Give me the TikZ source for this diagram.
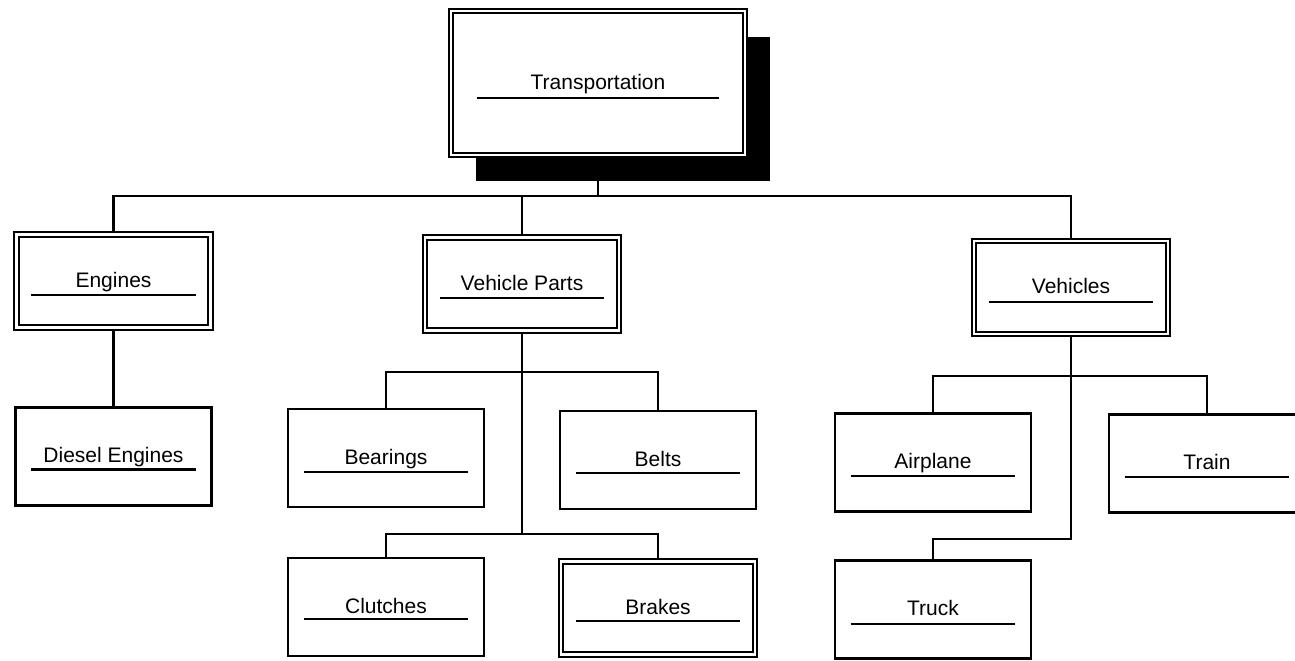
\documentclass[tikz,border=0pt]{standalone}
\usepackage{fontspec}
\setmainfont{Liberation Sans}
\usepackage{tikz}
\usetikzlibrary{shadows}

\begin{document}
\begin{tikzpicture}[x=0.5pt, y=-0.5pt, line width=1.4pt,
                    font=\fontsize{10.5}{12}\selectfont]
                    \tikzstyle{box}=[rectangle, draw, fill=white, line width=1.4pt, inner sep=0pt,
                                     minimum width=98pt, minimum height=49pt,
                                     text height=7.5pt, text depth=1.5pt]
                    \tikzstyle{dbox}=[box, line width=1.1pt, double, double distance=1.1pt,
                                      minimum width=97pt, minimum height=46.5pt]
                    \useasboundingbox (0,0) rectangle (1295,660);
                    \node (Trans) [dbox, minimum width=147pt, minimum height=72pt,
                                   drop shadow={shadow xshift=12.5pt, shadow yshift=-13pt,
                                                fill=black, opacity=1}]
                          at (598,83) {Transportation};
                    \node (Eng)   [dbox] at (113.5,281)  {Engines};
                    \node (Dies)  [box]  at (113.5,456.5) {Diesel Engines};
                    \node (Parts) [dbox] at (522,284)    {Vehicle Parts};
                    \node (Bear)  [box]  at (386,458)    {Bearings};
                    \node (Belt)  [box]  at (658,460)    {Belts};
                    \node (Clu)   [box]  at (386,607)    {Clutches};
                    \node (Brk)   [dbox] at (658,608)    {Brakes};
                    \node (Veh)   [dbox] at (1071,287.5) {Vehicles};
                    \node (Air)   [box]  at (933,462.5)  {Airplane};
                    \node (Train) [box]  at (1207,463.5) {Train};
                    \node (Truck) [box]  at (933,609.5)  {Truck};
                    % rule under each label
                    \foreach \n/\d/\h in {Trans/27/15, Eng/16/14, Dies/17/13, Parts/16/14,
                                          Bear/17/14, Belt/17/13, Clu/17/12, Brk/16/13,
                                          Veh/16/14.5, Air/17/13.5, Train/17/13.5, Truck/17/14.5}
                        \draw ([shift={(\d,\h)}]\n.west) -- ([shift={(-\d,\h)}]\n.east);
                    \coordinate (top) at (598,196);
                    \coordinate (pa) at (522,372);
                    \coordinate (pb) at (522,534);
                    \coordinate (va) at (1071,376);
                    \coordinate (vb) at (1071,539);
                    \draw (Trans.south) -- (top);
                    \draw (Eng.north) |- (top) -| (Veh.north);
                    \draw (top) -| (Parts.north);
                    \draw (Eng.south) -- (Dies.north);
                    \draw (Parts.south) -- (pb);
                    \draw (Bear.north) |- (pa) -| (Belt.north);
                    \draw (Clu.north) |- (pb) -| (Brk.north);
                    \draw (Veh.south) -- (vb) -| (Truck.north);
                    \draw (Air.north) |- (va) -| (Train.north);
                \end{tikzpicture}
\end{document}
